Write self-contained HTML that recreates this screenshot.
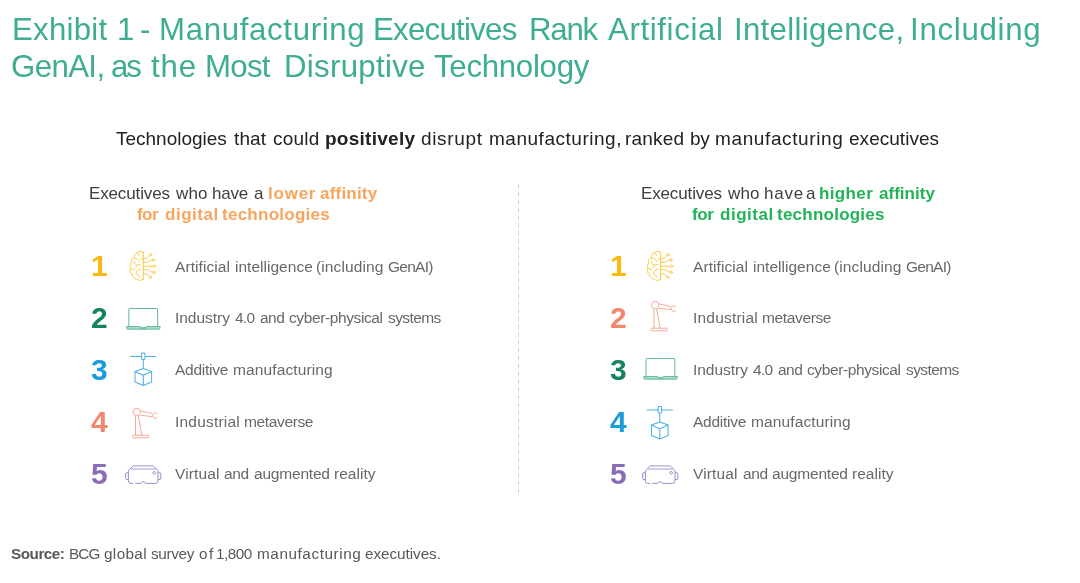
<!DOCTYPE html>
<html><head><meta charset="utf-8">
<style>
html,body{margin:0;padding:0;background:#fff;width:1080px;height:583px;overflow:hidden;position:relative}
.t{position:absolute;font-family:"Liberation Sans",sans-serif;white-space:nowrap;line-height:1;will-change:transform}
.ti{font-size:31.2px;color:#3EAD92}
.sub{font-size:19px;color:#222222}
.hd{font-size:17px;color:#404040}
.or{color:#F7A55C;font-weight:bold}
.gr{color:#22B357;font-weight:bold}
.li{font-size:15.5px;color:#686868}
.n{font-size:30px;font-weight:bold}
.c1{color:#FDB913}.c2{color:#16835E}.c3{color:#1A9BDC}.c4{color:#F3876E}.c5{color:#8A6BB8}
.src{font-size:15.3px;color:#585858}
svg{position:absolute;left:0;top:0}
</style></head><body>
<div class="t ti" style="left:11.8px;top:13.9px;letter-spacing:0.25px">Exhibit</div>
<div class="t ti" style="left:116.5px;top:13.9px">1</div>
<div class="t ti" style="left:140.2px;top:13.9px">-</div>
<div class="t ti" style="left:158.6px;top:13.9px;letter-spacing:0.67px">Manufacturing</div>
<div class="t ti" style="left:373.3px;top:13.9px;letter-spacing:-0.73px">Executives</div>
<div class="t ti" style="left:528.9px;top:13.9px;letter-spacing:-1.2px">Rank</div>
<div class="t ti" style="left:608.0px;top:13.9px;letter-spacing:0.63px">Artificial</div>
<div class="t ti" style="left:734.1px;top:13.9px;letter-spacing:0.3px">Intelligence,</div>
<div class="t ti" style="left:910.2px;top:13.9px;letter-spacing:0.72px">Including</div>
<div class="t ti" style="left:10.8px;top:51.2px;letter-spacing:-0.6px">GenAI,</div>
<div class="t ti" style="left:111.4px;top:51.2px;letter-spacing:-2.0px">as</div>
<div class="t ti" style="left:150.6px;top:51.2px;letter-spacing:0.9px">the</div>
<div class="t ti" style="left:204.9px;top:51.2px;letter-spacing:-0.7px">Most</div>
<div class="t ti" style="left:283.8px;top:51.2px;letter-spacing:0.31px">Disruptive</div>
<div class="t ti" style="left:434.2px;top:51.2px;letter-spacing:-0.27px">Technology</div>
<div class="t sub" style="left:116.1px;top:129.0px;letter-spacing:-0.01px">Technologies</div>
<div class="t sub" style="left:233.5px;top:129.0px;letter-spacing:0.13px">that</div>
<div class="t sub" style="left:273.2px;top:129.0px;letter-spacing:0.23px">could</div>
<div class="t sub" style="left:325.1px;top:129.0px;letter-spacing:0.26px"><b>positively</b></div>
<div class="t sub" style="left:420.6px;top:129.0px;letter-spacing:0.65px">disrupt</div>
<div class="t sub" style="left:488.7px;top:129.0px;letter-spacing:0.52px">manufacturing,</div>
<div class="t sub" style="left:625.2px;top:129.0px;letter-spacing:0.2px">ranked</div>
<div class="t sub" style="left:690.0px;top:129.0px;letter-spacing:-0.2px">by</div>
<div class="t sub" style="left:715.3px;top:129.0px;letter-spacing:0.62px">manufacturing</div>
<div class="t sub" style="left:848.7px;top:129.0px;letter-spacing:0.03px">executives</div>
<div class="t hd " style="left:89.3px;top:184.7px;letter-spacing:-0.14px">Executives</div>
<div class="t hd " style="left:176.0px;top:184.7px;letter-spacing:0.1px">who</div>
<div class="t hd " style="left:212.0px;top:184.7px;letter-spacing:-0.2px">have</div>
<div class="t hd " style="left:254.3px;top:184.7px">a</div>
<div class="t hd or" style="left:267.6px;top:184.7px;letter-spacing:0.77px">lower</div>
<div class="t hd or" style="left:320.0px;top:184.7px;letter-spacing:0.21px">affinity</div>
<div class="t hd or" style="left:136.7px;top:205.5px;letter-spacing:-0.55px">for</div>
<div class="t hd or" style="left:164.9px;top:205.5px;letter-spacing:0.52px">digital</div>
<div class="t hd or" style="left:221.8px;top:205.5px;letter-spacing:0.26px">technologies</div>
<div class="t hd " style="left:641.3px;top:184.7px;letter-spacing:-0.14px">Executives</div>
<div class="t hd " style="left:728.0px;top:184.7px;letter-spacing:0.1px">who</div>
<div class="t hd " style="left:764.0px;top:184.7px;letter-spacing:0.77px">have</div>
<div class="t hd " style="left:806.2px;top:184.7px">a</div>
<div class="t hd gr" style="left:819.3px;top:184.7px;letter-spacing:0.36px">higher</div>
<div class="t hd gr" style="left:878.7px;top:184.7px;letter-spacing:0.03px">affinity</div>
<div class="t hd gr" style="left:691.9px;top:205.5px;letter-spacing:-0.4px">for</div>
<div class="t hd gr" style="left:720.3px;top:205.5px;letter-spacing:0.52px">digital</div>
<div class="t hd gr" style="left:777.3px;top:205.5px;letter-spacing:0.24px">technologies</div>
<div class="t n c1" style="left:91px;top:251.1px">1</div>
<div class="t n c1" style="left:610px;top:251.1px">1</div>
<div class="t n c2" style="left:91px;top:303.4px">2</div>
<div class="t n c4" style="left:610px;top:303.4px">2</div>
<div class="t n c3" style="left:91px;top:355.3px">3</div>
<div class="t n c2" style="left:610px;top:355.3px">3</div>
<div class="t n c4" style="left:91px;top:407.4px">4</div>
<div class="t n c3" style="left:610px;top:407.4px">4</div>
<div class="t n c5" style="left:91px;top:459.1px">5</div>
<div class="t n c5" style="left:610px;top:459.1px">5</div>
<div class="t li" style="left:175.2px;top:258.55px;letter-spacing:0.08px">Artificial</div>
<div class="t li" style="left:234.5px;top:258.55px;letter-spacing:0.02px">intelligence</div>
<div class="t li" style="left:315.9px;top:258.55px;letter-spacing:0.12px">(including</div>
<div class="t li" style="left:388.2px;top:258.55px;letter-spacing:-0.74px">GenAI)</div>
<div class="t li" style="left:174.8px;top:310.35px;letter-spacing:-0.03px">Industry</div>
<div class="t li" style="left:234.8px;top:310.35px;letter-spacing:-0.75px">4.0</div>
<div class="t li" style="left:260.1px;top:310.35px;letter-spacing:-0.5px">and</div>
<div class="t li" style="left:289.0px;top:310.35px;letter-spacing:-0.39px">cyber-physical</div>
<div class="t li" style="left:387.5px;top:310.35px;letter-spacing:-0.6px">systems</div>
<div class="t li" style="left:175.0px;top:362.15px;letter-spacing:-0.26px">Additive</div>
<div class="t li" style="left:232.7px;top:362.15px;letter-spacing:0.12px">manufacturing</div>
<div class="t li" style="left:175.0px;top:413.95px;letter-spacing:0.2px">Industrial</div>
<div class="t li" style="left:243.8px;top:413.95px;letter-spacing:-0.36px">metaverse</div>
<div class="t li" style="left:174.9px;top:465.75px;letter-spacing:0.12px">Virtual</div>
<div class="t li" style="left:224.4px;top:465.75px;letter-spacing:-0.35px">and</div>
<div class="t li" style="left:254.0px;top:465.75px;letter-spacing:-0.2px">augmented</div>
<div class="t li" style="left:333.9px;top:465.75px;letter-spacing:0.03px">reality</div>
<div class="t li" style="left:693.3px;top:258.55px;letter-spacing:0.08px">Artificial</div>
<div class="t li" style="left:752.6px;top:258.55px;letter-spacing:0.02px">intelligence</div>
<div class="t li" style="left:834.0px;top:258.55px;letter-spacing:0.12px">(including</div>
<div class="t li" style="left:906.3px;top:258.55px;letter-spacing:-0.74px">GenAI)</div>
<div class="t li" style="left:693.1px;top:310.35px;letter-spacing:0.2px">Industrial</div>
<div class="t li" style="left:761.9px;top:310.35px;letter-spacing:-0.36px">metaverse</div>
<div class="t li" style="left:692.9px;top:362.15px;letter-spacing:-0.03px">Industry</div>
<div class="t li" style="left:752.9px;top:362.15px;letter-spacing:-0.75px">4.0</div>
<div class="t li" style="left:778.2px;top:362.15px;letter-spacing:-0.5px">and</div>
<div class="t li" style="left:807.1px;top:362.15px;letter-spacing:-0.39px">cyber-physical</div>
<div class="t li" style="left:905.6px;top:362.15px;letter-spacing:-0.6px">systems</div>
<div class="t li" style="left:693.1px;top:413.95px;letter-spacing:-0.26px">Additive</div>
<div class="t li" style="left:750.8px;top:413.95px;letter-spacing:0.12px">manufacturing</div>
<div class="t li" style="left:693.0px;top:465.75px;letter-spacing:0.12px">Virtual</div>
<div class="t li" style="left:742.5px;top:465.75px;letter-spacing:-0.35px">and</div>
<div class="t li" style="left:772.1px;top:465.75px;letter-spacing:-0.2px">augmented</div>
<div class="t li" style="left:852.0px;top:465.75px;letter-spacing:0.03px">reality</div>
<div class="t src" style="left:11.1px;top:545.7px;letter-spacing:-0.5px"><b>Source:</b></div>
<div class="t src" style="left:68.8px;top:545.7px;letter-spacing:-0.85px">BCG</div>
<div class="t src" style="left:103.8px;top:545.7px;letter-spacing:0.36px">global</div>
<div class="t src" style="left:151.1px;top:545.7px;letter-spacing:-0.34px">survey</div>
<div class="t src" style="left:198.9px;top:545.7px;letter-spacing:1.4px">of</div>
<div class="t src" style="left:216.2px;top:545.7px;letter-spacing:-0.5px">1,800</div>
<div class="t src" style="left:256.7px;top:545.7px;letter-spacing:0.57px">manufacturing</div>
<div class="t src" style="left:364.6px;top:545.7px;letter-spacing:-0.06px">executives.</div>
<svg width="1080" height="583" viewBox="0 0 1080 583">
<defs>
<g id="brain" fill="none" stroke="#FCC641" stroke-width="0.95" stroke-linecap="round" stroke-linejoin="round">
  <path d="M143.3 252.2V279.4"/>
  <path d="M143.3 252.6Q143.3 251.3 141.3 251.3Q137.6 251.5 135.4 253.8Q134 255.4 134.3 257.5Q131.6 258 131.2 260.8Q131 262.5 131.3 263.8Q129.9 265 130 267.2Q130.1 268.2 130.6 268.6Q129.8 269.6 129.9 271.2Q130.2 273.2 132.1 273.9Q132.2 276.6 134.6 278.3Q135.8 279 136.9 279.1Q138.2 280.6 140.6 280.4Q142.6 280.2 143.3 278.6"/>
  <path d="M137.3 253.4Q139.2 254 139.6 255.8"/>
  <path d="M134.6 258.3Q137.3 258.4 138.6 259.8Q139.3 260.6 139.4 261.4"/>
  <path d="M140.3 258Q141 259.5 143 259.9"/>
  <path d="M133.9 261.4Q134.2 264 136.4 264.8Q138.5 265.4 140.3 264.4"/>
  <path d="M137.3 265.1Q136.8 266.8 135.5 267.6"/>
  <path d="M130.6 268.3Q132.5 269.6 134.6 269.6"/>
  <path d="M140.3 269.2Q137 270 135.7 273.3Q138.5 274.6 139.4 277"/>
  <path d="M143.3 258.2H146.2Q147.3 258.2 148.3 256.9L149.4 255.7"/>
  <path d="M143.3 262.5H147Q148.3 262.5 149.8 261.2Q151 260.2 152.4 260"/>
  <path d="M143.3 266.2H153.2"/>
  <path d="M143.3 269.6H147Q148.3 269.6 149.8 270.9Q151 271.9 152.6 272.2"/>
  <path d="M143.3 273.9H146.2Q147.3 273.9 148.3 275.2L149.4 276.4"/>
  <circle cx="150.4" cy="254.8" r="1.2"/>
  <circle cx="153.5" cy="259.8" r="1.2"/>
  <circle cx="154.4" cy="266.2" r="1.2"/>
  <circle cx="153.8" cy="272.3" r="1.2"/>
  <circle cx="150.4" cy="277.3" r="1.2"/>
</g>
<g id="laptop" stroke="#68BEA5" stroke-width="1.05" stroke-linejoin="round">
  <path d="M128.8 326V309.6Q128.8 308.5 129.9 308.5H156.5Q157.6 308.5 157.6 309.6V326" fill="none"/>
  <path d="M126.7 326.6H140.2L141.4 327.9H145.3L146.5 326.6H160Q160.5 327.6 159.5 328.8Q159.2 329.1 158.6 329.1H128Q127.4 329.1 127.1 328.8Q126.1 327.6 126.7 326.6Z" fill="#BFE2D8"/>
  <path d="M141.4 327.9H145.3" stroke-width="1.4"/>
</g>
<g id="cube" fill="none" stroke="#4FB0E3" stroke-width="1.05" stroke-linejoin="round">
  <path d="M130.3 356.5H141.6M145 356.5H156.3"/>
  <rect x="141.6" y="353" width="3.4" height="6.4" rx="0.8"/>
  <path d="M143.3 359.4V368.4"/>
  <path d="M143.3 368.5L135 371.6V381.9L143.3 385.5L151.6 381.9V371.6Z"/>
  <path d="M135 371.6L143.3 375.3L151.6 371.6M143.3 375.3V385.5"/>
</g>
<g id="robot" fill="none" stroke="#F4A08B" stroke-width="0.9" stroke-linejoin="round">
  <circle cx="136.8" cy="412.1" r="3.7"/>
  <path d="M140.5 410.9L152.4 413.6M140.5 415.3L152.3 416.6"/>
  <path d="M157.6 414.1Q157 413 155.6 412.9Q153.9 412.9 153 414.4Q152.4 415.8 153.2 417.1Q154.2 418.5 155.8 418.3Q157 418.1 157.6 417.2"/>
  <path d="M135.5 416V435.2M138.3 415.9L141.7 435.2"/>
  <rect x="132.7" y="435.2" width="16" height="2.6" rx="0.5"/>
</g>
<g id="vr" fill="none" stroke="#A08DCC" stroke-width="1" stroke-linejoin="round">
  <path d="M131 469H155.6" stroke="#CEC3E5" stroke-width="1.7"/>
  <path d="M135.2 483.4H140.9Q141.9 481.6 143.2 481.6Q144.5 481.6 145.5 483.4H155.6Q158 483.4 158 481V470.8L154.2 466.6Q153.6 465.9 152.6 465.9H133.8Q132.8 465.9 132.2 466.6L128.4 470.8V481Q128.4 483.4 130.8 483.4H133"/>
  <path d="M128.3 472.8H126.4Q125.7 472.8 125.7 473.5V478.8Q125.7 479.5 126.4 479.5H128.3"/>
  <path d="M158.1 472.8H160.1Q160.8 472.8 160.8 473.5V478.8Q160.8 479.5 160.1 479.5H158.1"/>
  <circle cx="154.2" cy="472.8" r="1.3"/>
</g>
</defs>
<use href="#brain"/>
<use href="#laptop"/>
<use href="#cube"/>
<use href="#robot"/>
<use href="#vr"/>
<use href="#brain" transform="translate(517.3,0)"/>
<use href="#robot" transform="translate(518.4,-107)"/>
<use href="#laptop" transform="translate(517.2,50)"/>
<use href="#cube" transform="translate(516.5,53.5)"/>
<use href="#vr" transform="translate(517,0)"/>
<line x1="518.5" y1="184.3" x2="518.5" y2="492.8" stroke="#D0D0D0" stroke-width="1" stroke-dasharray="4 3.81"/>
</svg>

</body></html>
